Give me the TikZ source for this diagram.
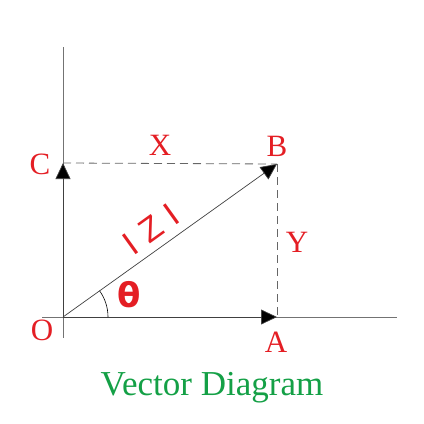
\documentclass[tikz,border=0pt]{standalone}
\usepackage{fontspec}
\setmainfont{Liberation Serif}
\newfontfamily\symfont{DejaVu Sans}
\newfontfamily\lsans[LetterSpace=30]{Liberation Sans}
\usetikzlibrary{arrows.meta}
\definecolor{lblred}{RGB}{228,30,36}
\definecolor{ttlgreen}{RGB}{20,160,70}
\tikzset{
  axisline/.style={draw=gray!90!black, line width=0.8pt},
  vecline/.style={draw=black!75, line width=0.7pt, -{Triangle[length=16pt,width=15pt,fill=black]}},
  guide/.style={draw=gray!80!black, line width=0.8pt, dash pattern=on 8pt off 5pt},
  lbl/.style={text=lblred, font=\fontsize{31}{31}\selectfont, inner sep=0pt},
}
\begin{document}
\begin{tikzpicture}[x=1pt,y=-1pt]
\path[use as bounding box] (0,0) rectangle (424,424);
\coordinate (O) at (63,317);
\coordinate (A) at (277,317);
\coordinate (B) at (277,164);
\coordinate (C) at (63,163);
\coordinate (xl) at (42,317);
\coordinate (xr) at (397,317);
\coordinate (yt) at (63,47);
\coordinate (yb) at (63,338);
% axes
\draw[axisline] (xl) -- (xr);
\draw[axisline] (yt) -- (yb);
% guides
\draw[guide] (C) -- (B);
\draw[guide] (B) -- (A);
% vectors
\draw[vecline] (O) -- (A);
\draw[vecline] (O) -- (C);
\draw[vecline] (O) -- (B);
% angle arc
\draw[black, line width=0.6pt] ([shift={(0:45)}]O) arc[start angle=0, end angle=-35.7, radius=45];
% labels
\node[lbl] (lO) at (42,330) {O};
\node[lbl] (lA) at (276,342) {A};
\node[lbl] (lB) at (277,146) {B};
\node[lbl] (lC) at (40,164) {C};
\node[lbl] (lX) at (160,145) {X};
\node[lbl] (lY) at (297,242) {Y};
\node[text=lblred, font=\symfont\bfseries\fontsize{34}{34}\selectfont, inner sep=0pt] (th) at (129,295) {θ};
\node[text=lblred, font=\lsans\fontsize{34}{34}\selectfont, inner sep=0pt, rotate=35.7] (Z) at (151,229) {IZI};
\node[text=ttlgreen, font=\fontsize{35}{35}\selectfont, inner sep=0pt] (title) at (212,388) {Vector Diagram};
\end{tikzpicture}
\end{document}
